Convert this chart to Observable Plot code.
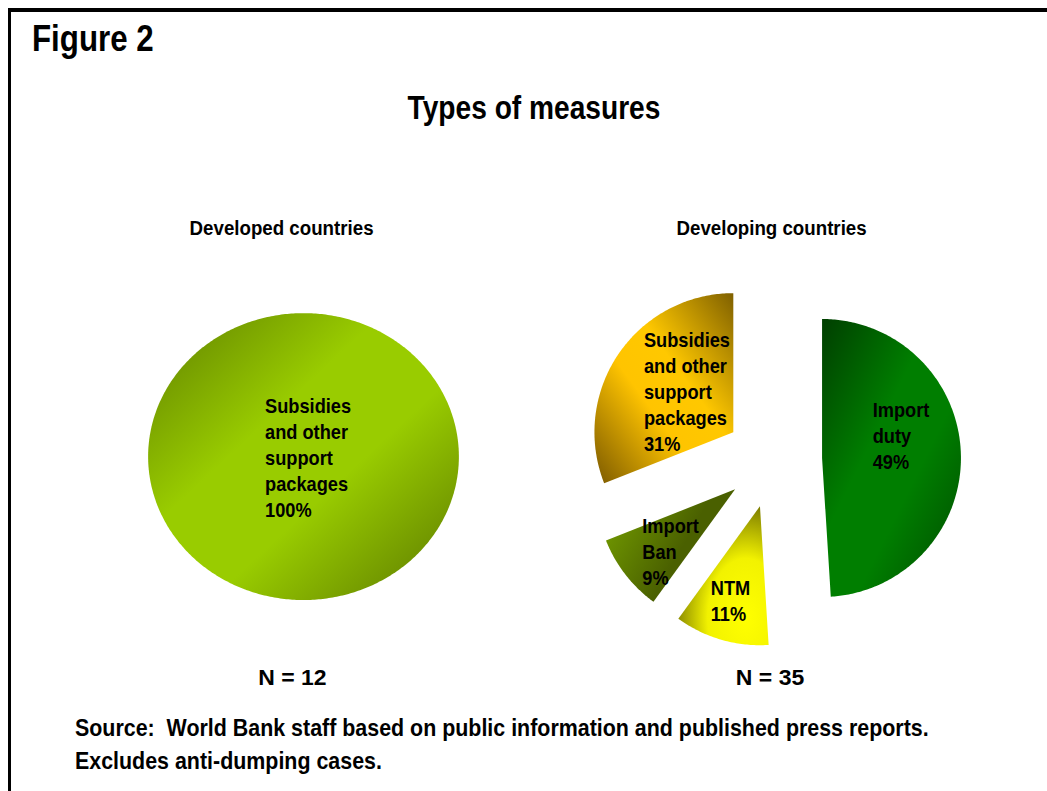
<!DOCTYPE html>
<html><head><meta charset="utf-8">
<script src="https://cdn.jsdelivr.net/npm/d3@7"></script>
<script src="https://cdn.jsdelivr.net/npm/@observablehq/plot@0.6"></script>
<style>
html,body{margin:0;padding:0;background:#fff;}
#page{position:relative;width:1047px;height:791px;overflow:hidden;background:#fff;
  font-family:"Liberation Sans Narrow","Arial Narrow","Liberation Sans",Arial,sans-serif;font-weight:bold;color:#000;}
.frame-top{position:absolute;left:8px;top:8px;width:1039px;height:4px;background:#000;}
.frame-left{position:absolute;left:8px;top:8px;width:3px;height:783px;background:#000;}
.t{position:absolute;white-space:pre;line-height:1;}
#chart{position:absolute;left:0;top:0;}
</style></head><body>
<div id="page">
  <div id="chart"></div>
  <div class="frame-top"></div><div class="frame-left"></div>
</div>
<script>
// ---- data ----
const figureLabel = "Figure 2";
const chartTitle = "Types of measures";
const groups = ["Developed countries", "Developing countries"];
const sampleSizes = [12, 35];
const developedMeasures = ["Subsidies and other support packages"];
const developedShares = [100];
const developingMeasures = ["Import duty", "NTM", "Import Ban", "Subsidies and other support packages"];
const developingShares = [49, 11, 9, 31];
const sourceLines = [
  "Source:  World Bank staff based on public information and published press reports.",
  "Excludes anti-dumping cases."
];

// ---- style / layout ----
const FONT = '"Liberation Sans Narrow","Arial Narrow","Liberation Sans",Arial,sans-serif';
const pieStyle = {
  "Developed countries": {rx: 1.119, ry: 1.032, cy: 0.021, explode: 0, titleShift: -0.158, nShift: -0.08},
  "Developing countries": {rx: 1, ry: 1, cy: 0, explode: 0.35, titleShift: -0.014, nShift: -0.025}
};
const sliceStyle = {
  "Developed countries|Subsidies and other support packages": {grad: "gDev", label: [0.277, 270]},
  "Developing countries|Import duty": {grad: "gDuty", label: [0.40, 65.7]},
  "Developing countries|NTM": {grad: "gNtm", label: [0.76, 207.8]},
  "Developing countries|Import Ban": {grad: "gBan", label: [0.80, 236.7]},
  "Developing countries|Subsidies and other support packages": {grad: "gSub", label: [0.71, 295]}
};
const gradients = [
  {id: "gDev", type: "linear", x1: 0, y1: 0, x2: 1, y2: 1,
   stops: [[0, "#5f7f00"], [0.38, "#99cc00"], [0.6, "#99cc00"], [1, "#5a7700"]]},
  {id: "gDuty", type: "linear", x1: 0, y1: 0, x2: 1, y2: 1,
   stops: [[0, "#003f00"], [0.4, "#007e00"], [0.62, "#007e00"], [1, "#004a00"]]},
  {id: "gSub", type: "linear", x1: 1, y1: 0, x2: 0, y2: 1,
   stops: [[0, "#7f6000"], [0.4, "#ffc800"], [0.6, "#ffc400"], [1, "#7a5800"]]},
  {id: "gBan", type: "linear", x1: 0, y1: 0.2, x2: 0.6, y2: 0.5,
   stops: [[0, "#739c00"], [1, "#4a6000"]]},
  {id: "gNtm", type: "radial", cx: 0.75, cy: 0.8, r: 0.85,
   stops: [[0, "#ffff00"], [0.5, "#f2f200"], [1, "#707000"]]}
];

function wrap(text, max) {
  const words = text.split(" "), lines = [];
  let cur = "";
  for (const w of words) {
    if (cur && (cur + " " + w).length > max) { lines.push(cur); cur = w; }
    else cur = cur ? cur + " " + w : w;
  }
  if (cur) lines.push(cur);
  return lines.join("\n");
}

const wedgeRows = [], labelRows = [];
function buildPie(group, measures, shares) {
  const st = pieStyle[group];
  const arcs = d3.pie().sort(null).value(d => d.v)(measures.map((m, i) => ({m, v: shares[i]})));
  for (const a of arcs) {
    const key = group + "|" + a.data.m;
    const ss = sliceStyle[key];
    const full = a.endAngle - a.startAngle >= 2 * Math.PI - 1e-9;
    const mid = (a.startAngle + a.endAngle) / 2;
    const ax = st.explode * st.rx * Math.sin(mid);
    const ay = st.cy + st.explode * st.ry * Math.cos(mid);
    const n = Math.max(2, Math.ceil((a.endAngle - a.startAngle) / (Math.PI / 240)));
    const fill = `url(#${ss.grad})`;
    if (!full) wedgeRows.push({group, key, x: ax, y: ay, fill});
    for (let i = 0; i <= n; ++i) {
      const t = a.startAngle + (a.endAngle - a.startAngle) * i / n;
      wedgeRows.push({group, key, x: ax + st.rx * Math.sin(t), y: ay + st.ry * Math.cos(t), fill});
    }
    const [k, deg] = ss.label;
    const r = deg * Math.PI / 180;
    labelRows.push({group, x: ax + k * Math.sin(r), y: ay + k * Math.cos(r),
      text: wrap(a.data.m, 9) + "\n" + a.data.v + "%"});
  }
}
buildPie(groups[0], developedMeasures, developedShares);
buildPie(groups[1], developingMeasures, developingShares);

const chart = Plot.plot({
  width: 1047, height: 791,
  marginLeft: 67.25, marginRight: 38.75, marginTop: 250.5, marginBottom: 123.5,
  fx: {domain: groups, padding: 0, axis: null},
  x: {domain: [-1.6924, 1.6924], axis: null},
  y: {domain: [-1.5, 1.5], axis: null},
  color: {type: "identity"},
  style: {fontFamily: FONT, background: "transparent", overflow: "visible"},
  marks: [
    Plot.line(wedgeRows, {fx: "group", x: "x", y: "y", z: "key", fill: "fill", stroke: "none", curve: "linear-closed"}),
    Plot.text(labelRows, {fx: "group", x: "x", y: "y", text: "text", textAnchor: "start", lineAnchor: "middle",
      lineHeight: 1.33, fontSize: 19.5, fontWeight: "bold", fill: "black", className: "sx935"}),
    Plot.text(groups, {fx: d => d, x: d => pieStyle[d].titleShift, frameAnchor: "top", dy: -22.7,
      text: d => d, fontSize: 20, fontWeight: "bold", fill: "black", lineAnchor: "middle", className: "sx935"}),
    Plot.text(groups, {fx: d => d, x: d => pieStyle[d].nShift, frameAnchor: "bottom", dy: 9.5,
      text: (d, i) => `N = ${sampleSizes[i]}`, fontSize: 22, fontWeight: "bold", fill: "black", lineAnchor: "middle", className: "sx1045"})
  ]
});
const svg = chart.tagName.toLowerCase() === "svg" ? chart : chart.querySelector("svg");
const defs = d3.select(svg).insert("defs", ":first-child");
for (const g of gradients) {
  const el = g.type === "radial"
    ? defs.append("radialGradient").attr("cx", g.cx).attr("cy", g.cy).attr("r", g.r)
    : defs.append("linearGradient").attr("x1", g.x1).attr("y1", g.y1).attr("x2", g.x2).attr("y2", g.y2);
  el.attr("id", g.id);
  for (const [o, c] of g.stops) el.append("stop").attr("offset", o).attr("stop-color", c);
}
// horizontal glyph compression to mimic the chart's narrow typeface
function squeeze(cls, s) {
  svg.querySelectorAll(`.${cls} text`).forEach(t => {
    let tr = t.getAttribute("transform") || "";
    const x = t.getAttribute("x");
    if (x != null && !isNaN(+x)) {
      tr = `translate(${+x},0) ` + tr;
      t.removeAttribute("x");
    }
    t.setAttribute("transform", tr + ` scale(${s},1)`);
  });
}
squeeze("sx935", 0.935);
squeeze("sx1045", 1.045);
document.getElementById("chart").appendChild(chart);

// HTML text (title, caption)
const page = document.getElementById("page");
function addText(txt, size, left, baseline, sx, center) {
  const d = document.createElement("div");
  d.className = "t";
  d.textContent = txt;
  d.style.fontSize = size + "px";
  d.style.top = (baseline - 0.8465 * size) + "px";
  d.style.left = left + "px";
  if (center) { d.style.transform = `translateX(-50%) scaleX(${sx})`; d.style.transformOrigin = "50% 50%"; }
  else { d.style.transform = `scaleX(${sx})`; d.style.transformOrigin = "0 50%"; }
  page.appendChild(d);
}
addText(figureLabel, 37.7, 32, 52, 0.83, false);
addText(chartTitle, 33.5, 533.5, 119, 0.84, true);
addText(sourceLines[0], 24, 75, 736, 0.892, false);
addText(sourceLines[1], 24, 75, 769, 0.892, false);
</script>
</body></html>
